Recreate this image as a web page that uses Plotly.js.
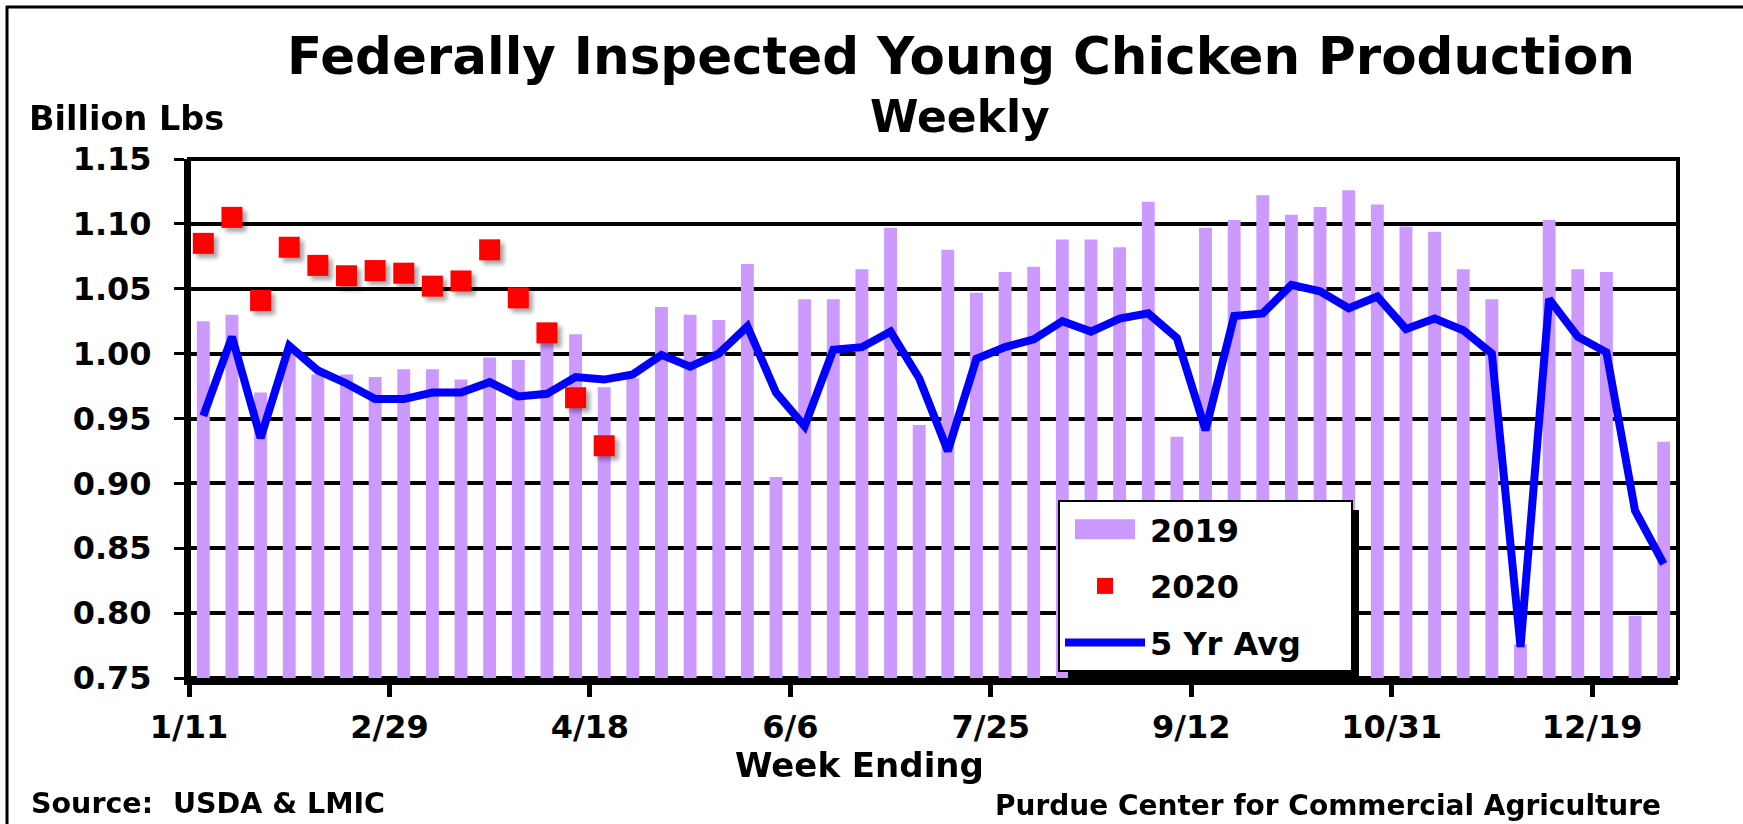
<!DOCTYPE html>
<html>
<head>
<meta charset="utf-8">
<script src="https://cdn.plot.ly/plotly-3.0.1.min.js"></script>
<style>
  html, body { margin: 0; padding: 0; background: #fff; }
  #chart { width: 1743px; height: 824px; }
</style>
</head>
<body>
<div id="chart"></div>
<script>
// Week-ending dates (categories)
const weeks = ['1/11','1/18','1/25','2/1','2/8','2/15','2/22','2/29','3/7','3/14','3/21','3/28',
  '4/4','4/11','4/18','4/25','5/2','5/9','5/16','5/23','5/30','6/6','6/13','6/20','6/27',
  '7/4','7/11','7/18','7/25','8/1','8/8','8/15','8/22','8/29','9/5','9/12','9/19','9/26',
  '10/3','10/10','10/17','10/24','10/31','11/7','11/14','11/21','11/28','12/5','12/12',
  '12/19','12/26','1/2'];

// Billion lbs
const prod2019 = [1.025, 1.030, 0.970, 1.001, 0.984, 0.984, 0.982, 0.988, 0.988, 0.980,
  0.997, 0.995, 1.012, 1.015, 0.974, 0.981, 1.036, 1.030, 1.026, 1.069,
  0.905, 1.042, 1.042, 1.065, 1.097, 0.945, 1.080, 1.047, 1.063, 1.067,
  1.088, 1.088, 1.082, 1.117, 0.936, 1.097, 1.103, 1.122, 1.107, 1.113,
  1.126, 1.115, 1.098, 1.094, 1.065, 1.042, 0.776, 1.103, 1.065, 1.063,
  0.798, 0.932];

const prod2020 = [1.085, 1.105, 1.041, 1.082, 1.068, 1.060, 1.064, 1.062, 1.052, 1.056,
  1.080, 1.043, 1.016, 0.966, 0.929];

const avg5yr = [0.952, 1.013, 0.935, 1.006, 0.987, 0.977, 0.965, 0.965, 0.970, 0.970,
  0.978, 0.967, 0.969, 0.982, 0.980, 0.984, 0.999, 0.990, 1.000, 1.021,
  0.970, 0.944, 1.003, 1.005, 1.017, 0.981, 0.925, 0.996, 1.005, 1.011,
  1.025, 1.017, 1.027, 1.031, 1.012, 0.941, 1.029, 1.031, 1.053, 1.048,
  1.035, 1.044, 1.019, 1.027, 1.018, 1.000, 0.774, 1.042, 1.013, 1.001,
  0.879, 0.838];

const tickEvery = 7;

const idx = weeks.map((w, i) => i);
const tickvals = [], ticktext = [];
weeks.forEach((w, i) => { if (i % tickEvery === 0) { tickvals.push(i - 0.5); ticktext.push(w); } });

const F = 'DejaVu Sans, Verdana, sans-serif';
const NB = '\u00a0';

const traces = [
  {
    type: 'bar', name: '2019', x: idx, y: prod2019,
    marker: { color: '#CC99FF' }, width: 0.45,
    legendgroup: 'a', legendrank: 1, hoverinfo: 'skip'
  },
  {
    type: 'scatter', mode: 'markers', name: '2020', x: idx.slice(0, prod2020.length), y: prod2020,
    marker: { symbol: 'square', color: '#FF0000', size: 21, line: { width: 0 } },
    legendgroup: 'b', legendrank: 2, hoverinfo: 'skip'
  },
  {
    type: 'scatter', mode: 'lines', name: '5 Yr Avg' + NB + NB + NB + NB, x: idx, y: avg5yr,
    line: { color: '#0000FF', width: 8 },
    legendgroup: 'c', legendrank: 3, hoverinfo: 'skip'
  }
];

const L = 189, R = 1678, T = 159, B = 678;
const px = v => (v - L) / (R - L);
const py = v => (B - v) / (B - T);

const layout = {
  width: 1743, height: 824,
  margin: { l: L, r: 1743 - R, t: T, b: 824 - B, pad: 0, autoexpand: false },
  paper_bgcolor: '#ffffff', plot_bgcolor: '#ffffff',
  font: { family: F, color: '#000', size: 32, weight: 'bold' },
  title: {
    text: '<b>Federally Inspected Young Chicken Production</b>',
    font: { family: F, size: 51.5, color: '#000' },
    xref: 'container', yref: 'container',
    x: 961 / 1743, y: 1 - 56 / 824, xanchor: 'center', yanchor: 'middle'
  },
  showlegend: true,
  legend: {
    xref: 'paper', yref: 'paper',
    x: px(1058), y: py(500), xanchor: 'left', yanchor: 'top',
    bgcolor: '#ffffff', bordercolor: '#000', borderwidth: 2,
    font: { family: F, size: 32, color: '#000', weight: 'bold' },
    itemwidth: 80, tracegroupgap: 12, traceorder: 'grouped'
  },
  bargap: 0.55,
  xaxis: {
    range: [-0.5, weeks.length - 0.5],
    tickmode: 'array', tickvals: tickvals, ticktext: ticktext,
    ticks: 'outside', ticklen: 12, tickwidth: 5, tickcolor: '#000',
    showline: true, linewidth: 7, linecolor: '#000',
    showgrid: false, zeroline: false,
    tickfont: { family: F, size: 32, color: '#000', weight: 'bold' },
    ticklabelstandoff: 3, fixedrange: true
  },
  yaxis: {
    range: [0.75, 1.15], tickmode: 'linear', tick0: 0.75, dtick: 0.05, tickformat: '.2f',
    ticks: 'outside', ticklen: 10, tickwidth: 3, tickcolor: '#000',
    showline: true, linewidth: 5, linecolor: '#000',
    showgrid: true, gridcolor: '#000', gridwidth: 4, zeroline: false,
    tickfont: { family: F, size: 32, color: '#000', weight: 'bold' },
    ticklabelstandoff: 16, fixedrange: true
  },
  shapes: [
    // plot area border (top/right)
    { type: 'rect', xref: 'paper', yref: 'paper', x0: 0, x1: 1, y0: 0, y1: 1,
      line: { color: '#000', width: 4 }, fillcolor: 'rgba(0,0,0,0)', layer: 'below' },
    // legend shadow
    { type: 'rect', xref: 'paper', yref: 'paper', x0: px(1068), x1: px(1359), y0: py(684), y1: py(510),
      line: { width: 0 }, fillcolor: '#000', layer: 'above' },
    // outer frame (left and top edges)
    { type: 'line', xref: 'paper', yref: 'paper', x0: px(7), x1: px(7), y0: py(6), y1: py(840),
      line: { color: '#000', width: 3 } },
    { type: 'line', xref: 'paper', yref: 'paper', x0: px(6), x1: px(1760), y0: py(7), y1: py(7),
      line: { color: '#000', width: 3 } }
  ],
  annotations: [
    { text: '<b>Weekly</b>', xref: 'paper', yref: 'paper', x: px(960), y: py(117),
      xanchor: 'center', yanchor: 'middle', showarrow: false,
      font: { family: F, size: 44, color: '#000' } },
    { text: '<b>Billion Lbs</b>', xref: 'paper', yref: 'paper', x: px(27), y: py(119),
      xanchor: 'left', yanchor: 'middle', showarrow: false,
      font: { family: F, size: 33.5, color: '#000' } },
    { text: '<b>Week Ending</b>', xref: 'paper', yref: 'paper', x: px(859), y: py(765),
      xanchor: 'center', yanchor: 'middle', showarrow: false,
      font: { family: F, size: 34, color: '#000' } },
    { text: '<b>Source:  USDA &amp; LMIC</b>', xref: 'paper', yref: 'paper', x: px(29), y: py(803),
      xanchor: 'left', yanchor: 'middle', showarrow: false,
      font: { family: F, size: 28.5, color: '#000' } },
    { text: '<b>Purdue Center for Commercial Agriculture</b>', xref: 'paper', yref: 'paper', x: px(1663), y: py(805),
      xanchor: 'right', yanchor: 'middle', showarrow: false,
      font: { family: F, size: 28, color: '#000' } }
  ]
};

Plotly.newPlot('chart', traces, layout, { staticPlot: true, displayModeBar: false }).then(gd => {
  // soft drop shadow on the 2020 markers, as in the original
  const tr = gd.querySelectorAll('.scatterlayer .trace');
  if (tr.length > 0) tr[0].style.filter = 'drop-shadow(4px 4px 2px rgba(0,0,0,0.35))';
  // widen the bar swatch in the legend to a wide rectangle like the original
  gd.querySelectorAll('.legend .traces').forEach(t => {
    const txt = t.querySelector('.legendtext');
    if (txt && txt.textContent === '2019') {
      t.querySelectorAll('.legendpoints path').forEach(p => p.setAttribute('d', 'M-30,10H30V-10H-30Z'));
    }
  });
});
</script>
</body>
</html>
